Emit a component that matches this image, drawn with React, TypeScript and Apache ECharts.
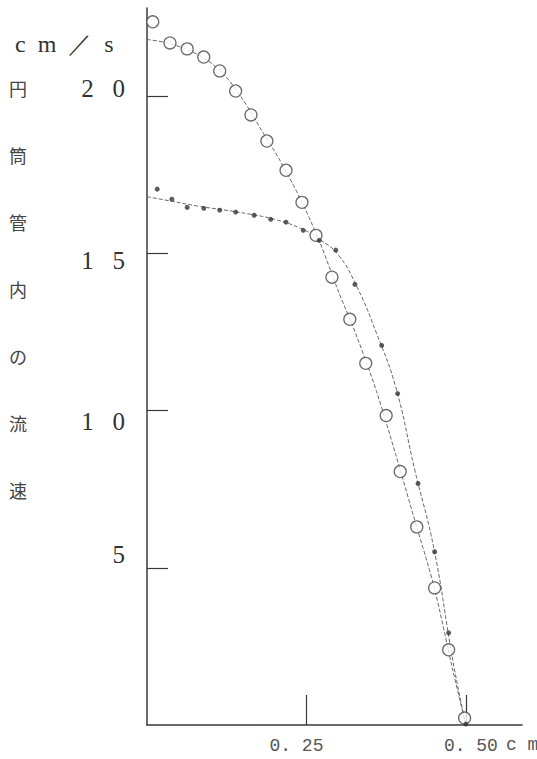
import React, { useEffect, useRef } from "react";
import * as echarts from "echarts";

// Measured points: open circles
const circleX = [0.009, 0.036, 0.063, 0.089, 0.114, 0.139, 0.163, 0.188, 0.218, 0.243, 0.265, 0.29, 0.318, 0.343, 0.375, 0.397, 0.423, 0.451, 0.473, 0.498];
const circleY = [22.36, 21.69, 21.5, 21.24, 20.8, 20.16, 19.4, 18.57, 17.64, 16.62, 15.57, 14.24, 12.9, 11.5, 9.84, 8.06, 6.3, 4.36, 2.39, 0.22];

// Measured points: filled dots
const dotX = [0.016, 0.039, 0.063, 0.089, 0.114, 0.139, 0.168, 0.194, 0.218, 0.245, 0.27, 0.296, 0.326, 0.368, 0.393, 0.425, 0.451, 0.473, 0.5];
const dotY = [17.04, 16.72, 16.46, 16.43, 16.37, 16.31, 16.21, 16.08, 15.99, 15.73, 15.41, 15.1, 14.01, 12.07, 10.54, 7.68, 5.51, 2.93, 0.03];

// Drawn fit curves
const fitCircleX = [0, 0.03, 0.06, 0.09, 0.12, 0.15, 0.18, 0.21, 0.24, 0.27, 0.3, 0.33, 0.36, 0.39, 0.42, 0.45, 0.48, 0.5];
const fitCircleY = [21.8, 21.7, 21.5, 21.2, 20.7, 19.9, 18.9, 17.9, 16.75, 15.4, 13.8, 12.3, 10.6, 8.6, 6.5, 4.4, 1.7, 0];
const fitDotX = [0, 0.04, 0.08, 0.12, 0.16, 0.2, 0.24, 0.27, 0.3, 0.33, 0.36, 0.39, 0.42, 0.45, 0.48, 0.5];
const fitDotY = [16.8, 16.65, 16.5, 16.38, 16.25, 16.08, 15.8, 15.45, 14.95, 13.9, 12.45, 10.75, 8.1, 5.6, 2.0, 0];

const yTicks = [5, 10, 15, 20];
const xTicks = [0.25, 0.5];
const yTitleChars = ["円", "筒", "管", "内", "の", "流", "速"];

const zip = (xs: number[], ys: number[]) => xs.map((x, i) => [x, ys[i]]);

export default function App() {
  const ref = useRef<HTMLDivElement>(null);
  useEffect(() => {
    document.body.style.margin = "0";
    const chart = echarts.init(ref.current!, null, { renderer: "svg" });
    const lineStyle = { color: "#6a6a6a", width: 1, type: [4, 2] as any };
    const xl = { fontFamily: "Liberation Mono", fontSize: 18, color: "#555" };
    const yl = { fontFamily: "Liberation Serif", fontSize: 25, color: "#333" };
    chart.setOption({
      animation: false,
      backgroundColor: "#ffffff",
      grid: { left: 147, right: 15, top: 8, bottom: 34 },
      xAxis: {
        type: "value",
        min: 0,
        max: 0.588,
        splitLine: { show: false },
        axisLine: { lineStyle: { color: "#3a3a3a", width: 1.5 } },
        axisTick: { show: true, inside: true, length: 30, customValues: xTicks, lineStyle: { color: "#3a3a3a", width: 1.2 } },
        axisLabel: {
          customValues: xTicks,
          margin: 12,
          ...xl,
          formatter: (v: number) => (v === 0.25 ? "{l|0. 25}" : "{r|0. 50}"),
          rich: {
            l: { padding: [0, 20, 0, 0], ...xl },
            r: { padding: [0, 0, 0, 10], ...xl },
          },
        },
      },
      yAxis: {
        type: "value",
        min: 0,
        max: 22.8,
        splitLine: { show: false },
        axisLine: { lineStyle: { color: "#3a3a3a", width: 1.5 } },
        axisTick: { show: true, inside: true, length: 21, customValues: yTicks, lineStyle: { color: "#3a3a3a", width: 1.2 } },
        axisLabel: {
          customValues: yTicks,
          margin: 22,
          ...yl,
          formatter: (v: number) => {
            if (v === 5) return "{u13|5}";
            if (v === 10) return "{d11|1   0}";
            if (v === 15) return "{d7|1   5}";
            return "{u8|2   0}";
          },
          rich: {
            u13: { padding: [0, 0, 26, 0], ...yl },
            d11: { padding: [22, 0, 0, 0], ...yl },
            d7: { padding: [14, 0, 0, 0], ...yl },
            u8: { padding: [0, 0, 16, 0], ...yl },
          },
        },
      },
      graphic: [
        {
          type: "text",
          left: 15,
          top: 32,
          style: { text: "c  m  ／  s", font: "24px 'Liberation Serif'", fill: "#333" },
        },
        ...yTitleChars.map((c, i) => ({
          type: "text",
          left: 9,
          top: 79 + i * 67,
          style: { text: c, font: "18px 'Noto Sans CJK JP'", fill: "#444" },
        })),
        {
          type: "text",
          left: 506,
          top: 736,
          style: { text: "c m", font: "18px 'Liberation Mono'", fill: "#555" },
        },
      ],
      series: [
        {
          type: "line",
          data: zip(fitCircleX, fitCircleY),
          smooth: 0.3,
          showSymbol: false,
          symbol: "none",
          lineStyle,
          z: 1,
        },
        {
          type: "line",
          data: zip(fitDotX, fitDotY),
          smooth: 0.45,
          showSymbol: false,
          symbol: "none",
          lineStyle,
          z: 1,
        },
        {
          type: "scatter",
          data: zip(circleX, circleY),
          symbol: "circle",
          symbolSize: 12,
          itemStyle: { color: "#ffffff", borderColor: "#4a4a4a", borderWidth: 1.3 },
          z: 3,
        },
        {
          type: "scatter",
          data: zip(dotX, dotY),
          symbol: "circle",
          symbolSize: 5,
          itemStyle: { color: "#333333" },
          z: 4,
        },
      ],
    });
    return () => chart.dispose();
  }, []);
  return <div ref={ref} style={{ width: 537, height: 759 }} />;
}
